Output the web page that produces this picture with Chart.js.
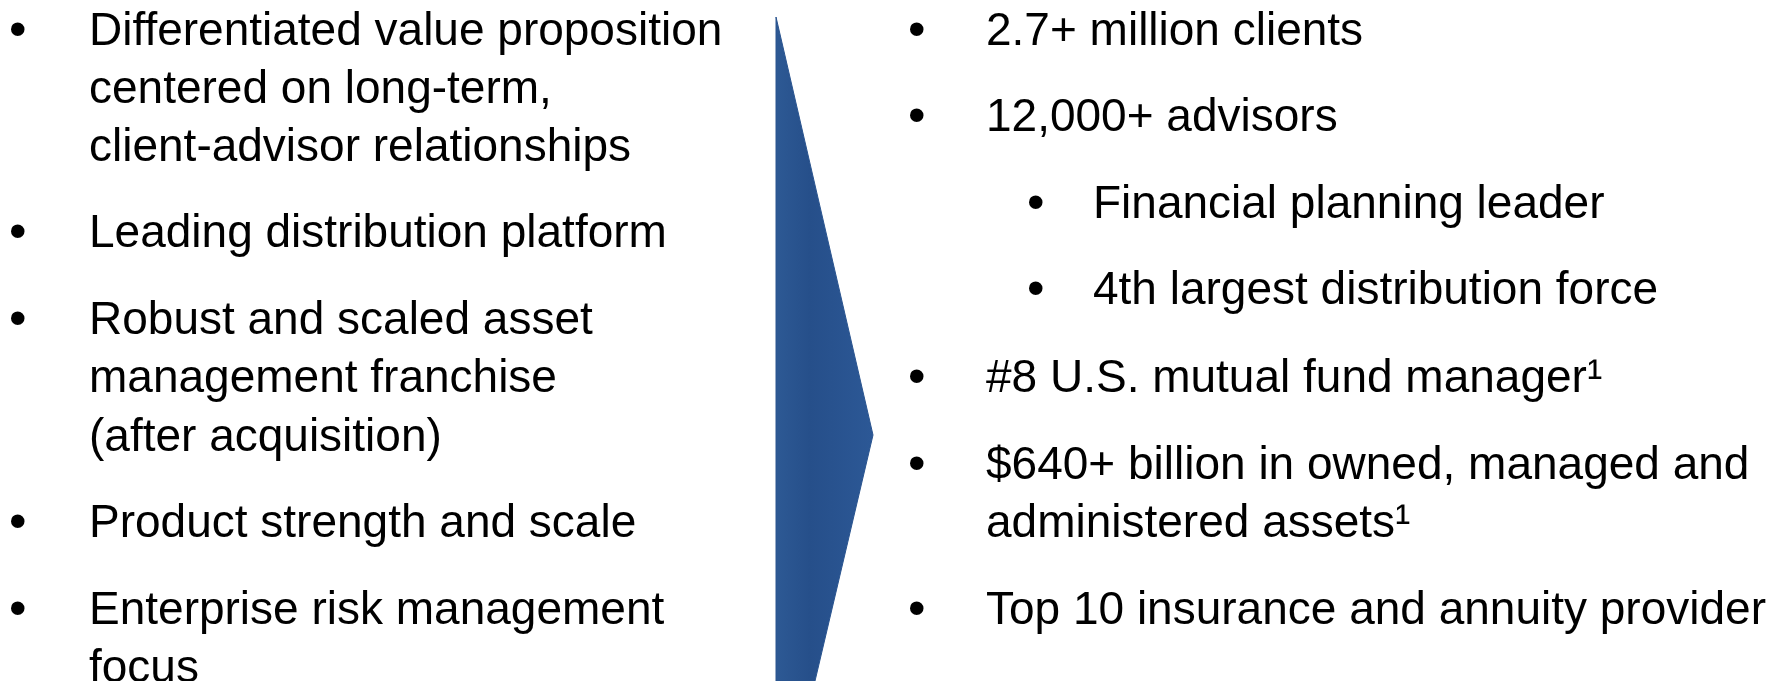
<!DOCTYPE html>
<html>
<head>
<meta charset="utf-8">
<script src="https://cdn.jsdelivr.net/npm/chart.js@4.4.1/dist/chart.umd.min.js"></script>
<style>
    html, body { margin: 0; padding: 0; background: #ffffff; }
    #slide { position: relative; width: 1771px; height: 681px; overflow: hidden; }
    #arrowChart { position: absolute; left: 0; top: 0; }
    .ln {
        position: absolute;
        font-family: "Liberation Sans", Arial, sans-serif;
        font-size: 46px;
        line-height: 60px;
        height: 60px;
        color: #000;
        white-space: nowrap;
    }
    .bl { font-size: 50px; }
</style>
</head>
<body>
<div id="slide">
    <canvas id="arrowChart" width="1771" height="681" style="width:1771px;height:681px;"></canvas>

    <!-- left column -->
    <div class="ln bl" style="left:9px;top:-1px;">•</div>
    <div class="ln" style="left:89px;top:-1px;">Differentiated value proposition</div>
    <div class="ln" style="left:89px;top:57px;">centered on long-term,</div>
    <div class="ln" style="left:89px;top:115px;">client-advisor relationships</div>

    <div class="ln bl" style="left:9px;top:201px;">•</div>
    <div class="ln" style="left:89px;top:201px;">Leading distribution platform</div>

    <div class="ln bl" style="left:9px;top:288px;">•</div>
    <div class="ln" style="left:89px;top:288px;">Robust and scaled asset</div>
    <div class="ln" style="left:89px;top:346px;">management franchise</div>
    <div class="ln" style="left:89px;top:405px;">(after acquisition)</div>

    <div class="ln bl" style="left:9px;top:491px;">•</div>
    <div class="ln" style="left:89px;top:491px;">Product strength and scale</div>

    <div class="ln bl" style="left:9px;top:578px;">•</div>
    <div class="ln" style="left:89px;top:578px;">Enterprise risk management</div>
    <div class="ln" style="left:89px;top:636px;">focus</div>

    <!-- right column -->
    <div class="ln bl" style="left:908px;top:-1px;">•</div>
    <div class="ln" style="left:986px;top:-1px;">2.7+ million clients</div>

    <div class="ln bl" style="left:908px;top:85px;">•</div>
    <div class="ln" style="left:986px;top:85px;">12,000+ advisors</div>

    <div class="ln bl" style="left:1027px;top:172px;">•</div>
    <div class="ln" style="left:1093px;top:172px;">Financial planning leader</div>

    <div class="ln bl" style="left:1027px;top:258px;">•</div>
    <div class="ln" style="left:1093px;top:258px;">4th largest distribution force</div>

    <div class="ln bl" style="left:908px;top:346px;">•</div>
    <div class="ln" style="left:986px;top:346px;">#8 U.S. mutual fund manager¹</div>

    <div class="ln bl" style="left:908px;top:433px;">•</div>
    <div class="ln" style="left:986px;top:433px;">$640+ billion in owned, managed and</div>
    <div class="ln" style="left:986px;top:491px;">administered assets¹</div>

    <div class="ln bl" style="left:908px;top:578px;">•</div>
    <div class="ln" style="left:986px;top:578px;">Top 10 insurance and annuity provider</div>
</div>

<script>
    // Arrow outline, in slide pixel units (x to the right, y downwards)
    const arrowX = [776, 873, 815, 776, 776];
    const arrowY = [17, 435, 681, 681, 17];

    const arrowPoints = arrowX.map((x, i) => ({ x: x, y: arrowY[i] }));

    function arrowFill(context) {
        const chart = context.chart;
        const area = chart.chartArea;
        if (!area) return '#2a548f';
        const xs = chart.scales.x;
        const g = chart.ctx.createLinearGradient(xs.getPixelForValue(776), 0, xs.getPixelForValue(873), 0);
        g.addColorStop(0, '#2d5994');
        g.addColorStop(0.35, '#264f8a');
        g.addColorStop(1, '#2c5896');
        return g;
    }

    const ctx = document.getElementById('arrowChart');
    new Chart(ctx, {
        type: 'scatter',
        data: {
            datasets: [{
                data: arrowPoints,
                showLine: true,
                fill: 'shape',
                backgroundColor: arrowFill,
                borderColor: '#2a548f',
                borderWidth: 1,
                pointRadius: 0,
                tension: 0
            }]
        },
        options: {
            responsive: false,
            animation: false,
            layout: { padding: 0 },
            scales: {
                x: { type: 'linear', display: false, min: 0, max: 1771 },
                y: { type: 'linear', display: false, min: 0, max: 681, reverse: true }
            },
            plugins: {
                legend: { display: false },
                tooltip: { enabled: false }
            }
        }
    });
</script>
</body>
</html>
